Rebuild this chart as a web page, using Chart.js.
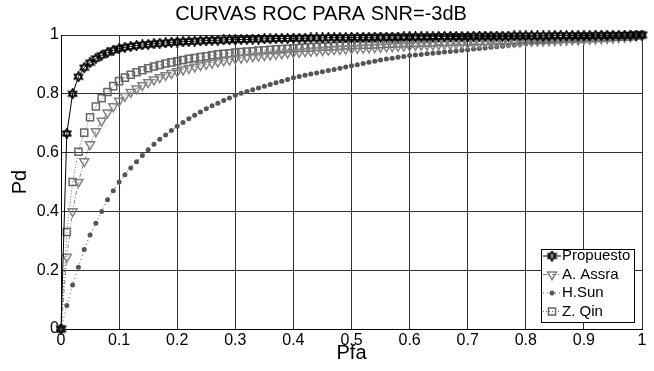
<!DOCTYPE html>
<html>
<head>
<meta charset="utf-8">
<script src="https://cdn.jsdelivr.net/npm/chart.js@4.4.0/dist/chart.umd.min.js"></script>
<style>
html, body { margin: 0; padding: 0; background: #fff; }
</style>
</head>
<body>
<canvas id="roc-chart" width="654" height="371"></canvas>
<script>
// Pfa axis (one marker every 0.01)
var pfa = [0,0.01,0.02,0.03,0.04,0.05,0.06,0.07,0.08,0.09,
	0.1,0.11,0.12,0.13,0.14,0.15,0.16,0.17,0.18,0.19,
	0.2,0.21,0.22,0.23,0.24,0.25,0.26,0.27,0.28,0.29,
	0.3,0.31,0.32,0.33,0.34,0.35,0.36,0.37,0.38,0.39,
	0.4,0.41,0.42,0.43,0.44,0.45,0.46,0.47,0.48,0.49,
	0.5,0.51,0.52,0.53,0.54,0.55,0.56,0.57,0.58,0.59,
	0.6,0.61,0.62,0.63,0.64,0.65,0.66,0.67,0.68,0.69,
	0.7,0.71,0.72,0.73,0.74,0.75,0.76,0.77,0.78,0.79,
	0.8,0.81,0.82,0.83,0.84,0.85,0.86,0.87,0.88,0.89,
	0.9,0.91,0.92,0.93,0.94,0.95,0.96,0.97,0.98,0.99,1];

var pdPropuesto = [0,0.665,0.80,0.858,0.889,0.906,0.920,0.931,0.940,0.948,
	0.954,0.958,0.961,0.964,0.966,0.968,0.970,0.972,0.973,0.975,
	0.976,0.977,0.978,0.979,0.980,0.981,0.982,0.982,0.983,0.984,
	0.984,0.985,0.985,0.986,0.986,0.987,0.987,0.988,0.988,0.988,
	0.989,0.989,0.989,0.990,0.990,0.990,0.991,0.991,0.991,0.991,
	0.992,0.992,0.992,0.992,0.993,0.993,0.993,0.993,0.993,0.994,
	0.994,0.994,0.994,0.994,0.994,0.995,0.995,0.995,0.995,0.995,
	0.995,0.996,0.996,0.996,0.996,0.996,0.996,0.996,0.997,0.997,
	0.997,0.997,0.997,0.997,0.997,0.998,0.998,0.998,0.998,0.998,
	0.998,0.998,0.999,0.999,0.999,0.999,0.999,0.999,1,1,1];

var pdAssra = [0,0.245,0.40,0.50,0.57,0.628,0.672,0.708,0.736,0.757,
	0.776,0.792,0.806,0.818,0.829,0.839,0.848,0.856,0.863,0.870,
	0.876,0.882,0.887,0.892,0.897,0.901,0.905,0.909,0.913,0.916,
	0.920,0.922,0.925,0.927,0.929,0.931,0.933,0.935,0.937,0.939,
	0.941,0.942,0.944,0.945,0.947,0.948,0.949,0.951,0.952,0.953,
	0.954,0.955,0.956,0.957,0.958,0.959,0.960,0.961,0.962,0.963,
	0.964,0.965,0.966,0.966,0.967,0.968,0.969,0.969,0.970,0.971,
	0.972,0.972,0.973,0.974,0.974,0.975,0.976,0.976,0.977,0.978,
	0.978,0.979,0.980,0.980,0.981,0.982,0.982,0.983,0.984,0.984,
	0.985,0.986,0.987,0.988,0.989,0.990,0.992,0.993,0.995,0.997,1];

var pdSun = [0,0.08,0.15,0.21,0.27,0.32,0.36,0.40,0.44,0.47,
	0.50,0.525,0.548,0.569,0.59,0.61,0.628,0.645,0.66,0.675,
	0.69,0.702,0.715,0.727,0.738,0.749,0.759,0.768,0.777,0.786,
	0.795,0.802,0.808,0.814,0.82,0.826,0.832,0.838,0.843,0.849,
	0.855,0.859,0.863,0.867,0.871,0.875,0.879,0.883,0.887,0.891,
	0.895,0.899,0.903,0.907,0.911,0.915,0.918,0.921,0.924,0.927,
	0.93,0.932,0.934,0.936,0.938,0.94,0.942,0.944,0.946,0.948,
	0.95,0.952,0.954,0.956,0.958,0.96,0.962,0.964,0.966,0.968,
	0.97,0.972,0.974,0.976,0.977,0.978,0.98,0.981,0.983,0.984,
	0.985,0.987,0.988,0.989,0.99,0.992,0.993,0.995,0.996,0.998,1];

var pdQin = [0,0.33,0.50,0.603,0.668,0.72,0.757,0.785,0.806,0.826,
	0.843,0.855,0.865,0.873,0.880,0.887,0.893,0.898,0.903,0.907,
	0.911,0.915,0.919,0.922,0.925,0.928,0.931,0.934,0.936,0.938,
	0.940,0.942,0.944,0.945,0.947,0.948,0.950,0.951,0.952,0.953,
	0.955,0.956,0.957,0.958,0.959,0.960,0.961,0.962,0.963,0.964,
	0.965,0.966,0.967,0.967,0.968,0.969,0.970,0.970,0.971,0.972,
	0.972,0.973,0.974,0.974,0.975,0.976,0.976,0.977,0.977,0.978,
	0.978,0.979,0.980,0.980,0.981,0.981,0.982,0.982,0.983,0.983,
	0.984,0.984,0.985,0.985,0.986,0.986,0.987,0.987,0.988,0.988,
	0.989,0.990,0.990,0.991,0.992,0.993,0.994,0.995,0.996,0.998,1];

var seriesNames = ['Propuesto', 'A. Assra', 'H.Sun', 'Z. Qin'];
var xTicks = [0, 0.1, 0.2, 0.3, 0.4, 0.5, 0.6, 0.7, 0.8, 0.9, 1];
var yTicks = [0, 0.2, 0.4, 0.6, 0.8, 1];

var FONT = "'Liberation Sans', Arial, sans-serif";

function toPoints(ys) {
	var pts = [];
	for (var i = 0; i < pfa.length; i++) {
		pts.push({x: pfa[i], y: ys[i]});
	}
	return pts;
}

// six pointed star like the matlab hexagram marker
function hexagram() {
	var c = document.createElement('canvas');
	c.width = 11; c.height = 11;
	var g = c.getContext('2d');
	g.strokeStyle = '#000';
	g.lineWidth = 1.4;
	var r = 4.8, cx = 5.5, cy = 5.5;
	[-Math.PI / 2, Math.PI / 2].forEach(function (a0) {
		g.beginPath();
		for (var k = 0; k < 3; k++) {
			var a = a0 + k * 2 * Math.PI / 3;
			var px = cx + r * Math.cos(a), py = cy + r * Math.sin(a);
			if (k === 0) g.moveTo(px, py); else g.lineTo(px, py);
		}
		g.closePath();
		g.stroke();
	});
	return c;
}

var starImg = hexagram();

var datasets = [{
	label: seriesNames[0],
	data: toPoints(pdPropuesto),
	borderColor: '#000',
	borderWidth: 1,
	pointStyle: starImg,
	pointRadius: 5,
	pointBorderColor: '#000',
	pointBackgroundColor: '#000'
}, {
	label: seriesNames[1],
	data: toPoints(pdAssra),
	borderColor: '#828282',
	borderWidth: 1,
	borderDash: [4, 2, 1, 2],
	pointStyle: 'triangle',
	pointRotation: 180,
	pointRadius: 5.2,
	pointBorderWidth: 1.5,
	pointBorderColor: '#828282',
	pointBackgroundColor: 'rgba(0,0,0,0)'
}, {
	label: seriesNames[2],
	data: toPoints(pdSun),
	borderColor: '#555',
	borderWidth: 1,
	borderDash: [1, 3],
	pointStyle: 'circle',
	pointRadius: 2.5,
	pointBorderWidth: 0,
	pointBorderColor: '#555',
	pointBackgroundColor: '#555'
}, {
	label: seriesNames[3],
	data: toPoints(pdQin),
	borderColor: '#666',
	borderWidth: 1,
	borderDash: [1, 2],
	pointStyle: 'rect',
	pointRadius: 5,
	pointBorderWidth: 1.5,
	pointBorderColor: '#666',
	pointBackgroundColor: 'rgba(0,0,0,0)'
}];

// legend box inside the plot, bottom right (matlab style)
var insideLegend = {
	id: 'insideLegend',
	afterDatasetsDraw: function (chart) {
		var ctx = chart.ctx;
		var area = chart.chartArea;
		var w = 93, h = 73;
		var x0 = area.right - 101, y0 = area.bottom - 80;
		ctx.save();
		ctx.setLineDash([]);
		ctx.fillStyle = '#fff';
		ctx.fillRect(x0, y0, w, h);
		ctx.strokeStyle = '#000';
		ctx.lineWidth = 1;
		ctx.strokeRect(x0 + 0.5, y0 + 0.5, w, h);
		ctx.font = '15px ' + FONT;
		ctx.textBaseline = 'middle';
		chart.data.datasets.forEach(function (ds, i) {
			var yy = y0 + 7 + i * 18.5;
			ctx.strokeStyle = ds.borderColor;
			ctx.lineWidth = 1;
			ctx.setLineDash(ds.borderDash || []);
			ctx.beginPath();
			ctx.moveTo(x0 + 2, yy);
			ctx.lineTo(x0 + 20, yy);
			ctx.stroke();
			ctx.setLineDash([]);
			ctx.fillStyle = ds.pointBackgroundColor;
			ctx.strokeStyle = ds.pointBorderColor;
			ctx.lineWidth = ds.pointBorderWidth || 1;
			Chart.helpers.drawPoint(ctx, {
				pointStyle: ds.pointStyle,
				radius: ds.pointRadius,
				rotation: ds.pointRotation || 0,
				borderWidth: ds.pointBorderWidth === undefined ? 1 : ds.pointBorderWidth
			}, x0 + 11, yy);
			ctx.fillStyle = '#000';
			ctx.fillText(ds.label, x0 + 21, yy);
		});
		ctx.restore();
	}
};

var ctx = document.getElementById('roc-chart');
var rocChart = new Chart(ctx, {
	type: 'scatter',
	data: {datasets: datasets},
	options: {
		responsive: false,
		animation: false,
		showLine: true,
		layout: {padding: {left: 0, right: 12, top: 0, bottom: 0}},
		elements: {line: {tension: 0}},
		datasets: {scatter: {clip: false}},
		plugins: {
			legend: {display: false},
			tooltip: {enabled: false},
			title: {
				display: true,
				text: 'CURVAS ROC PARA SNR=-3dB',
				color: '#000',
				font: {family: FONT, size: 20, weight: 'normal'},
				padding: {top: 2, bottom: 9}
			}
		},
		scales: {
			x: {
				type: 'linear',
				min: 0,
				max: 1,
				afterBuildTicks: function (scale) {
					scale.ticks = xTicks.map(function (v) { return {value: v}; });
				},
				afterFit: function (scale) { scale.height = 42; },
				ticks: {
					color: '#000',
					padding: 2,
					maxRotation: 0,
					font: {family: FONT, size: 16},
					callback: function (v) { return String(v); }
				},
				grid: {color: '#333', lineWidth: 1, drawTicks: false},
				border: {color: '#000', width: 1},
				title: {
					display: true,
					text: 'Pfa',
					color: '#000',
					font: {family: FONT, size: 20},
					padding: {top: 0, bottom: 6}
				}
			},
			y: {
				type: 'linear',
				min: 0,
				max: 1,
				afterBuildTicks: function (scale) {
					scale.ticks = yTicks.map(function (v) { return {value: v}; });
				},
				afterFit: function (scale) { scale.width = 61; },
				ticks: {
					color: '#000',
					padding: 2,
					font: {family: FONT, size: 16},
					callback: function (v) { return String(v); }
				},
				grid: {color: '#333', lineWidth: 1, drawTicks: false},
				border: {color: '#000', width: 1},
				title: {
					display: true,
					text: 'Pd',
					color: '#000',
					font: {family: FONT, size: 20},
					padding: {top: 8, bottom: 0}
				}
			}
		}
	},
	plugins: [insideLegend]
});
</script>
</body>
</html>
